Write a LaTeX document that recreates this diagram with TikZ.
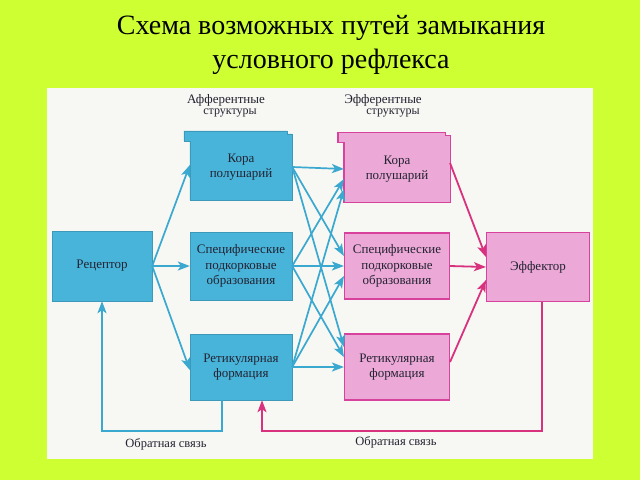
\documentclass[tikz,border=0pt]{standalone}
\usepackage{fontspec}
\setmainfont{Liberation Serif}
\usetikzlibrary{calc,arrows.meta,backgrounds}
\definecolor{lime}{RGB}{206,255,51}
\definecolor{paper}{RGB}{247,247,243}
\definecolor{afblue}{RGB}{72,180,218}
\definecolor{arblue}{RGB}{58,168,207}
\definecolor{efpink}{RGB}{236,168,215}
\definecolor{efline}{RGB}{214,66,156}
\definecolor{arpink}{RGB}{216,50,126}
\definecolor{ink}{RGB}{35,35,50}
\tikzstyle{afbox}=[rectangle,fill=afblue,draw=afblue!85!black,line width=0.4pt,text=ink,align=center,font=\fontsize{13}{15.5}\selectfont,minimum width=102,minimum height=66,inner sep=2pt]
\tikzstyle{efbox}=[rectangle,fill=efpink,draw=efline,line width=1.1pt,text=ink,align=center,font=\fontsize{13}{15.5}\selectfont,minimum width=105,minimum height=66,inner sep=2pt]
\tikzstyle{tabbox}=[fill=none,draw=none]
\tikzstyle{bluearrow}=[draw=arblue,line width=1.7pt,-{Stealth[length=12pt,width=9pt,inset=3pt]}]
\tikzstyle{pinkarrow}=[draw=arpink,line width=1.8pt,-{Stealth[length=12pt,width=9pt,inset=3pt]}]
\tikzstyle{header}=[text=ink,font=\fontsize{13}{15}\selectfont]
\tikzstyle{smallheader}=[text=ink,font=\fontsize{12}{12}\selectfont]
% box with a small tab at the top left corner
\newcommand{\drawtab}[2]{
  \begin{pgfonlayer}{background}
  \filldraw[#2] (#1.south west) -- ($(#1.north west)+(0,7)$) -- ($(#1.north west)+(-6,7)$)
    -- ($(#1.north west)+(-6,-3)$) -- ($(#1.north east)+(-5,-3)$) -- ($(#1.north east)+(-5,0)$)
    -- (#1.north east) -- (#1.south east) -- cycle;
  \end{pgfonlayer}
}

\begin{document}
\begin{tikzpicture}[x=1pt,y=-1pt]
\useasboundingbox (0,0) rectangle (640,480);
\begin{pgfonlayer}{background}
\fill[lime] (0,0) rectangle (640,480);
\fill[paper] (47,88) rectangle (593,459);
\end{pgfonlayer}

% title
\node[text=black,font=\fontsize{28}{32}\selectfont] (title1) at (331,28) {Схема возможных путей замыкания};
\node[text=black,font=\fontsize{28}{32}\selectfont] (title2) at (331,62) {условного рефлекса};

\node[header] (afhead) at (226,100) {Афферентные};
\node[smallheader] (afhead2) at (230,113) {структуры};
\node[header] (efhead) at (383,100) {Эфферентные};
\node[smallheader] (efhead2) at (393,113) {структуры};

\node[afbox,minimum width=100,minimum height=70] (rec) at (102,266) {Рецептор};
\node[afbox,tabbox] (a1) at (241,167) {Кора\\полушарий};
\node[afbox,minimum height=68] (a2) at (241,266) {Специфические\\подкорковые\\образования};
\node[afbox] (a3) at (241,367) {Ретикулярная\\формация};

\node[efbox,tabbox] (e1) at (397,169) {Кора\\полушарий};
\node[efbox] (e2) at (397,266) {Специфические\\подкорковые\\образования};
\node[efbox] (e3) at (397,367) {Ретикулярная\\формация};
\node[efbox,minimum width=103,minimum height=69] (eff) at (538,267) {Эффектор};

\drawtab{a1}{fill=afblue,draw=afblue!85!black,line width=0.4pt}
\drawtab{e1}{fill=efpink,draw=efline,line width=1.1pt}

\draw[bluearrow] (rec.east) -- ($(a1.west)+(0,-2)$);
\draw[bluearrow] (rec.east) -- (a2.west);
\draw[bluearrow] (rec.east) -- ($(a3.west)+(0,3)$);

\foreach \i in {1,2,3} {
  \foreach \j in {1,2,3} {
    \pgfmathsetmacro{\off}{10*(\i-\j)}
    \draw[bluearrow] (a\i.east) -- ($(e\j.west)+(0,\off)$);
  }
}

\draw[pinkarrow] ($(e1.east)+(0,-6)$) -- ($(eff.west)+(0,-10)$);
\draw[pinkarrow] (e2.east) -- (eff.west);
\draw[pinkarrow] ($(e3.east)+(0,-5)$) -- ($(eff.west)+(0,13)$);

% feedback
\draw[bluearrow] ($(a3.south)+(-19,0)$) -- ++(0,31) -| (rec.south);
\node[text=ink,font=\fontsize{12.5}{14}\selectfont] (fb1) at (166,444) {Обратная связь};
\draw[pinkarrow] ($(eff.south)+(4,0)$) -- ++(0,129) -| ($(a3.south)+(21,0)$);
\node[text=ink,font=\fontsize{12.5}{14}\selectfont] (fb2) at (396,442) {Обратная связь};
\end{tikzpicture}
\end{document}
